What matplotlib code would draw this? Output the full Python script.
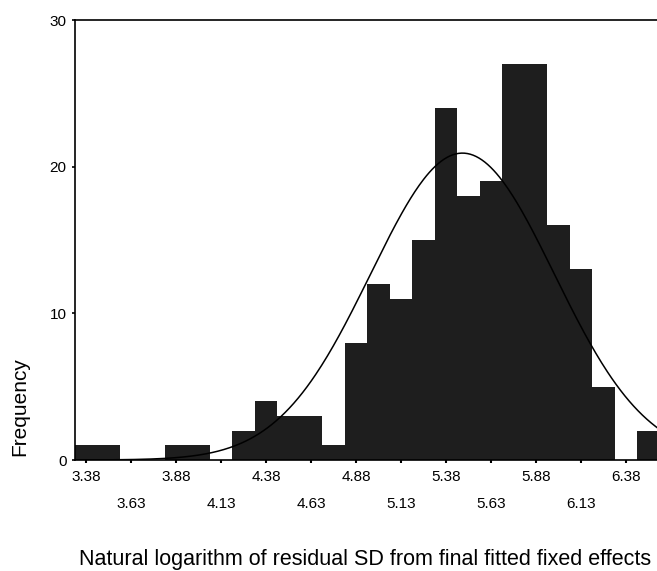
import numpy as np
import matplotlib
matplotlib.use("Agg")
import matplotlib.pyplot as plt

plt.rcParams['font.family'] = ['Liberation Sans', 'DejaVu Sans']

# bin midpoints (width 0.125) and counts
bin_width = 0.125
bin_centers = [3.38, 3.505, 3.63, 3.755, 3.88, 4.005, 4.13, 4.255, 4.38, 4.505,
               4.63, 4.755, 4.88, 5.005, 5.13, 5.255, 5.38, 5.505, 5.63, 5.755,
               5.88, 6.005, 6.13, 6.255, 6.38, 6.505]
counts = [1, 1, 0, 0, 1, 1, 0, 2, 4, 3,
          3, 1, 8, 12, 11, 15, 24, 18, 19, 27,
          27, 16, 13, 5, 0, 2]

# fitted normal curve parameters
fit_mean = 5.47
fit_sd = 0.51
n_total = sum(counts)

row1_ticks = [3.38, 3.88, 4.38, 4.88, 5.38, 5.88, 6.38]
row2_ticks = [3.63, 4.13, 4.63, 5.13, 5.63, 6.13]
y_ticks = [0, 10, 20, 30]

fig = plt.figure(figsize=(6.57, 5.71), dpi=100)
ax = fig.add_axes([75 / 657, 111 / 571, 1 - 75 / 657, 440 / 571])

ax.bar(bin_centers, counts, width=bin_width, color='#1e1e1e', edgecolor='#1e1e1e',
       linewidth=0, zorder=2)

xmin, xmax = 3.3175, 6.551
xs = np.linspace(xmin, xmax, 400)
ys = n_total * bin_width / (fit_sd * np.sqrt(2 * np.pi)) * np.exp(-0.5 * ((xs - fit_mean) / fit_sd) ** 2)
ax.plot(xs, ys, color='black', linewidth=1.1, zorder=3)

ax.set_xlim(xmin, xmax)
ax.set_ylim(0, 30)

ax.set_xticks(row1_ticks)
ax.set_xticklabels([f"{t:.2f}" for t in row1_ticks])
ax.set_xticks(row2_ticks, minor=True)
ax.set_xticklabels([f"{t:.2f}" for t in row2_ticks], minor=True)
ax.tick_params(axis='x', which='major', length=2, width=1.5, pad=5, labelsize=11)
ax.tick_params(axis='x', which='minor', length=2, width=1.5, pad=25, labelsize=11)

ax.set_yticks(y_ticks)
ax.tick_params(axis='y', length=2, width=1.2, pad=4, labelsize=11)

ax.spines['right'].set_visible(False)
for s in ['left', 'top', 'bottom']:
    ax.spines[s].set_linewidth(1.2)

fig.text(20 / 657, 1 - 407 / 571, "Frequency", rotation=90, ha='center', va='center', fontsize=15)
fig.text(365 / 657, 1 - 559 / 571, "Natural logarithm of residual SD from final fitted fixed effects",
         ha='center', va='center', fontsize=15.5)

fig.savefig("out.png", dpi=100)
